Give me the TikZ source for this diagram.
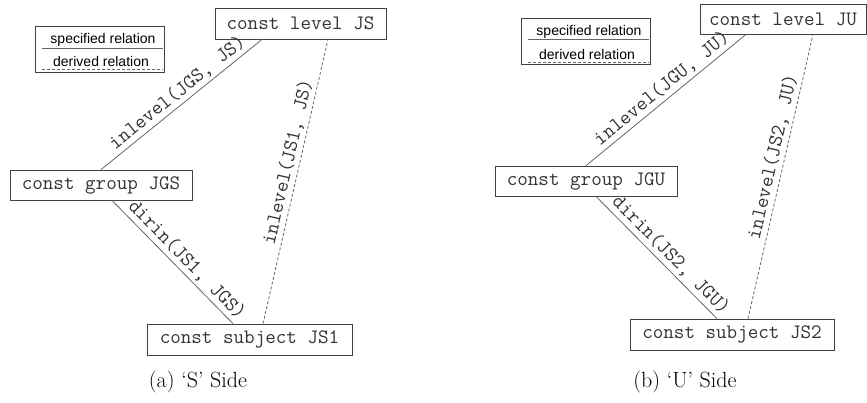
\documentclass[tikz,border=0pt]{standalone}
\usepackage{fontspec}
\newfontfamily\legfont{Liberation Sans}
\begin{document}
\begin{tikzpicture}[x=1pt,y=-1pt,
  box/.style={draw=black!75, line width=0.8pt, rectangle, inner sep=0pt, text=black!80,
    font=\ttfamily\fontsize{20.5}{22}\selectfont, anchor=center},
  rel/.style={draw=black!60, line width=0.8pt},
  drel/.style={draw=black!60, line width=0.8pt, dash pattern=on 3pt off 2pt},
  lab/.style={font=\ttfamily\fontsize{20.5}{22}\selectfont, text=black!80, sloped, inner sep=3pt},
  legbox/.style={draw=black!75, line width=0.8pt, rectangle, inner sep=0pt, minimum width=129pt, minimum height=46pt},
  legtxt/.style={font=\legfont\fontsize{14}{16}\selectfont, inner sep=0pt},
  captxt/.style={font=\fontsize{22}{26}\selectfont, inner sep=0pt}
]
\useasboundingbox (0,0) rectangle (867,402);

% ---------- (a) S side ----------
\node[legbox] (legA) at (99.5,49) {};
\node[legtxt] (legAs) at (103,40) {specified relation};
\node[legtxt] (legAd) at (101,61) {derived relation};
\coordinate (legAs1) at (42,48); \coordinate (legAs2) at (163,48);
\coordinate (legAd1) at (42,69); \coordinate (legAd2) at (163,69);
\draw[rel] (legAs1) -- (legAs2);
\draw[drel] (legAd1) -- (legAd2);

\node[box, minimum width=171pt, minimum height=31pt] (LJS) at (300.5,23.5) {const level JS};
\node[box, minimum width=182pt, minimum height=30pt] (GJS) at (101,185) {const group JGS};
\node[box, minimum width=205pt, minimum height=31pt] (SJS) at (249.5,339.5) {const subject JS1};

\draw[rel] (GJS.north) -- node[lab, above, pos=0.52] (lA1) {inlevel(JGS, JS)} ([xshift=-38.5pt]LJS.south);
\draw[drel] ([xshift=13.5pt]SJS.north) -- node[lab, above, pos=0.56] (lA2) {inlevel(JS1, JS)} ([xshift=27.5pt]LJS.south);
\draw[rel] ([xshift=11pt]GJS.south) -- node[lab, above, pos=0.55] (lA3) {dirin(JS1, JGS)} ([xshift=-16.5pt]SJS.north);

\node[captxt] (capA) at (198,382) {(a) `S' Side};

% ---------- (b) U side ----------
\node[legbox] (legB) at (585.5,41.5) {};
\node[legtxt] (legBs) at (589,32) {specified relation};
\node[legtxt] (legBd) at (587,54) {derived relation};
\coordinate (legBs1) at (528,39); \coordinate (legBs2) at (649,39);
\coordinate (legBd1) at (528,62); \coordinate (legBd2) at (649,62);
\draw[rel] (legBs1) -- (legBs2);
\draw[drel] (legBd1) -- (legBd2);

\node[box, minimum width=166pt, minimum height=30pt] (LJU) at (783,19) {const level JU};
\node[box, minimum width=182pt, minimum height=30pt] (GJU) at (586,181) {const group JGU};
\node[box, minimum width=204pt, minimum height=31pt] (SJU) at (732,334.5) {const subject JS2};

\draw[rel] (GJU.north) -- node[lab, above, pos=0.52] (lB1) {inlevel(JGU, JU)} ([xshift=-37pt]LJU.south);
\draw[drel] ([xshift=16pt]SJU.north) -- node[lab, above, pos=0.56] (lB2) {inlevel(JS2, JU)} ([xshift=30pt]LJU.south);
\draw[rel] ([xshift=10pt]GJU.south) -- node[lab, above, pos=0.55] (lB3) {dirin(JS2, JGU)} ([xshift=-15pt]SJU.north);

\node[captxt] (capB) at (685,382) {(b) `U' Side};
\end{tikzpicture}
\end{document}
